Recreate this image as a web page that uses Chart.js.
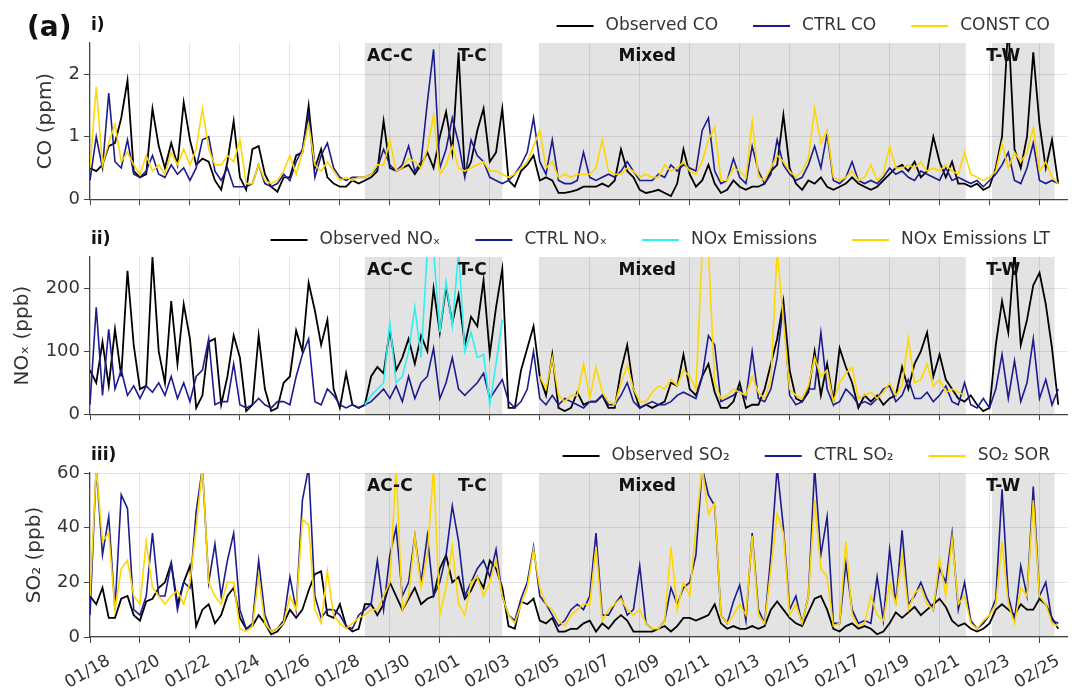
<!DOCTYPE html>
<html>
<head>
<meta charset="utf-8">
<script src="https://cdn.jsdelivr.net/npm/chart.js@4.4.0/dist/chart.umd.min.js"></script>
<style>
  body { margin: 0; background: #fff; }
  #wrap { position: relative; width: 1072px; height: 700px; }
  canvas { position: absolute; left: 0; }
</style>
</head>
<body>
<div id="wrap">
  <canvas id="co" width="1072" height="214" style="top:0px"></canvas>
  <canvas id="nox" width="1072" height="215" style="top:214px"></canvas>
  <canvas id="so2" width="1072" height="270" style="top:430px"></canvas>
</div>
<script>
// -------------- DATA ------------------
// 4 samples a day (every 6 h), day 0 = 01/18 00:00

const PER_DAY = 4;

const coObs = [
  0.5, 0.45, 0.55, 0.85, 0.9, 1.3, 1.9, 0.45,
  0.35, 0.4, 1.45, 0.85, 0.5, 0.9, 0.55, 1.55,
  0.95, 0.55, 0.65, 0.6, 0.3, 0.15, 0.6, 1.25,
  0.35, 0.15, 0.8, 0.85, 0.4, 0.2, 0.12, 0.35,
  0.35, 0.7, 0.75, 1.5, 0.5, 0.8, 0.35, 0.25,
  0.2, 0.2, 0.3, 0.25, 0.3, 0.35, 0.45, 1.25,
  0.5, 0.45, 0.5, 0.55, 0.4, 0.55, 0.75, 0.5,
  1.0, 1.4, 0.75, 2.35, 0.4, 0.6, 1.1, 1.45,
  0.6, 0.75, 1.45, 0.3, 0.2, 0.45, 0.55, 0.7,
  0.3, 0.35, 0.3, 0.1, 0.1, 0.12, 0.15, 0.2,
  0.2, 0.2, 0.25, 0.2, 0.3, 0.8, 0.45, 0.35,
  0.15, 0.1, 0.12, 0.15, 0.1, 0.05, 0.25, 0.8,
  0.4, 0.2, 0.3, 0.55, 0.25, 0.1, 0.15, 0.3,
  0.2, 0.15, 0.2, 0.2, 0.25, 0.45, 0.55, 1.35,
  0.5, 0.25, 0.15, 0.3, 0.25, 0.35, 0.2, 0.15,
  0.2, 0.25, 0.35, 0.25, 0.2, 0.15, 0.2, 0.3,
  0.4, 0.5, 0.55, 0.45, 0.6, 0.35, 0.45, 1.0,
  0.6, 0.35, 0.6, 0.25, 0.25, 0.2, 0.25, 0.15,
  0.2, 0.5, 1.0, 2.8, 0.8, 0.5, 1.0, 2.35,
  1.2, 0.5, 0.95, 0.25
];
const coCtrl = [
  0.3, 1.0, 0.5, 1.7, 0.6, 0.5, 0.95, 0.4,
  0.35, 0.45, 0.7, 0.4, 0.35, 0.55, 0.4, 0.5,
  0.3, 0.5, 0.95, 1.0, 0.45, 0.3, 0.5, 0.2,
  0.2, 0.2, 0.25, 0.55, 0.25, 0.2, 0.25, 0.4,
  0.3, 0.6, 0.8, 1.35, 0.35, 0.7, 0.9, 0.5,
  0.35, 0.3, 0.35, 0.35, 0.35, 0.4, 0.5, 0.8,
  0.55, 0.45, 0.55, 0.85, 0.45, 0.6, 1.55, 2.4,
  0.5, 0.8, 1.3, 0.9, 0.35, 0.95, 0.7, 0.6,
  0.35, 0.3, 0.25, 0.3, 0.4, 0.55, 0.75, 1.3,
  0.6, 0.4, 0.95, 0.3, 0.25, 0.25, 0.3, 0.75,
  0.35, 0.3, 0.35, 0.4, 0.35, 0.45, 0.6, 0.45,
  0.3, 0.3, 0.3, 0.4, 0.35, 0.55, 0.45, 0.55,
  0.5, 0.45, 1.1, 1.3, 0.45, 0.25, 0.3, 0.65,
  0.35, 0.25, 0.85, 0.45, 0.25, 0.4, 0.95, 0.55,
  0.4, 0.3, 0.35, 0.55, 0.85, 0.5, 1.05, 0.3,
  0.25, 0.35, 0.6, 0.3, 0.25, 0.3, 0.25, 0.35,
  0.5, 0.4, 0.45, 0.35, 0.3, 0.45, 0.4, 0.35,
  0.3, 0.5, 0.3, 0.35, 0.3, 0.25, 0.3, 0.2,
  0.3, 0.4, 0.55, 0.75, 0.3, 0.25, 0.5, 0.9,
  0.3, 0.25, 0.3, 0.25
];
const coConst = [
  0.5, 1.8, 0.55, 0.9, 1.2, 0.6, 0.75, 0.55,
  0.4, 0.7, 0.45, 0.55, 0.4, 0.75, 0.55, 0.8,
  0.55, 0.8, 1.45, 0.8, 0.55, 0.55, 0.7, 0.6,
  0.95, 0.25, 0.25, 0.55, 0.3, 0.25, 0.3, 0.45,
  0.7, 0.4, 0.75, 1.2, 0.55, 0.45, 0.6, 0.45,
  0.3, 0.35, 0.3, 0.35, 0.35, 0.4, 0.55, 0.55,
  0.95, 0.45, 0.5, 0.65, 0.6, 0.5, 0.8, 1.35,
  0.4, 0.55, 0.85, 0.5, 0.45, 0.5, 0.55, 0.6,
  0.45, 0.45, 0.4, 0.35, 0.4, 0.5, 0.6, 0.85,
  1.1, 0.5, 0.6, 0.35, 0.4, 0.35, 0.4, 0.4,
  0.4, 0.5, 0.95, 0.45, 0.4, 0.4, 0.5, 0.45,
  0.35, 0.4, 0.35, 0.35, 0.55, 0.45, 0.5, 0.6,
  0.45, 0.4, 0.6, 0.95, 1.15, 0.3, 0.3, 0.5,
  0.45, 0.35, 1.25, 0.35, 0.3, 0.5, 0.7, 0.6,
  0.45, 0.35, 0.45, 0.65, 1.45, 0.9, 1.1, 0.35,
  0.3, 0.35, 0.45, 0.3, 0.35, 0.55, 0.3, 0.4,
  0.85, 0.5, 0.5, 0.55, 0.5, 0.6, 0.45, 0.5,
  0.45, 0.55, 0.45, 0.4, 0.75, 0.4, 0.35, 0.3,
  0.35, 0.45, 0.9, 0.5, 0.75, 0.6, 0.75, 1.15,
  0.45, 0.6, 0.35, 0.25
];

const noxObs = [
  70, 50, 115, 45, 135, 60, 228, 110,
  40, 45, 250, 100, 50, 180, 80, 175,
  120, 10, 30, 115, 120, 15, 60, 125,
  90, 5, 15, 125, 40, 5, 10, 50,
  60, 133, 100, 209, 165, 110, 150, 40,
  10, 65, 15, 10, 15, 60, 75, 65,
  135, 70, 90, 120, 80, 125, 100, 200,
  130, 203, 145, 190, 110, 155, 140, 213,
  95, 170, 231, 10, 10, 70, 105, 140,
  60, 30, 95, 10, 5, 10, 35, 15,
  20, 20, 30, 10, 10, 70, 110, 40,
  10, 15, 10, 15, 20, 50, 45, 95,
  40, 30, 60, 80, 35, 10, 10, 20,
  50, 10, 15, 15, 40, 80, 120, 180,
  70, 25, 20, 35, 100, 30, 80, 20,
  105, 75, 50, 10, 30, 20, 30, 15,
  25, 30, 75, 40, 80, 100, 130, 60,
  95, 55, 40, 25, 20, 30, 15, 5,
  10, 110, 180, 130, 260, 110, 150, 205,
  225, 175, 105, 15
];
const noxCtrl = [
  15, 170, 30, 135, 40, 70, 30, 45,
  25, 45, 35, 50, 30, 60, 25, 50,
  20, 60, 70, 120, 15, 20, 20, 80,
  15, 10, 15, 25, 15, 10, 20, 20,
  15, 60, 95, 120, 20, 15, 40, 30,
  15, 10, 15, 10, 15, 20, 30, 40,
  25, 45, 20, 60, 25, 50, 60, 105,
  25, 50, 90, 40, 30, 40, 50, 65,
  25, 40, 55, 20, 10, 20, 40, 100,
  25, 15, 30, 15, 25, 20, 15, 10,
  20, 20, 30, 15, 15, 30, 50, 20,
  10, 15, 20, 15, 15, 20, 30, 35,
  30, 25, 60, 125, 110, 20, 25, 30,
  40, 25, 100, 25, 20, 40, 90, 175,
  30, 15, 20, 40, 40, 130, 40, 15,
  20, 40, 30, 15, 20, 15, 25, 40,
  45, 20, 30, 55, 25, 25, 35, 20,
  30, 45, 20, 15, 50, 15, 10, 25,
  10, 40, 95, 25, 85, 20, 50, 120,
  25, 55, 15, 40
];
// sensitivity runs only cover part of the period
const noxEmisStart = 11;
const noxEmis = [
  15, 30, 40, 50, 145, 50, 60, 100,
  170, 90, 260, 260, 130, 210, 140, 260,
  100, 130, 90, 95, 15, 80, 150
];
const noxLtStart = 18;
const noxLt = [
  60, 40, 90, 30, 20, 30, 30, 80,
  25, 75, 35, 20, 15, 50, 78, 40,
  20, 20, 35, 45, 40, 55, 45, 70,
  60, 40, 260, 260, 50, 25, 30, 40,
  35, 30, 60, 35, 25, 55, 260, 150,
  40, 30, 25, 45, 90, 60, 70, 20,
  50, 65, 75, 25, 30, 35, 25, 35,
  50, 30, 45, 120, 50, 55, 80, 45,
  55, 35, 40, 35, 30
];

const so2Obs = [
  15, 12, 18, 7, 7, 14, 15, 8,
  6, 13, 14, 18, 20, 27, 12, 20,
  26, 4, 10, 12, 5, 8, 15, 18,
  7, 3, 4, 8, 5, 1, 2, 5,
  10, 7, 10, 17, 23, 24, 8, 7,
  12, 4, 2, 3, 12, 12, 8, 12,
  20, 15, 10, 14, 18, 12, 14, 15,
  25, 30, 20, 22, 14, 17, 22, 18,
  28, 25, 18, 4, 3, 13, 12, 14,
  6, 5, 7, 2, 2, 3, 3, 5,
  6, 2, 5, 3, 6, 8, 6, 2,
  2, 2, 2, 3, 4, 2, 4, 7,
  7, 6, 7, 8, 12, 5, 3, 4,
  3, 3, 4, 3, 4, 10, 13, 10,
  7, 5, 4, 9, 14, 15, 10, 3,
  2, 4, 5, 3, 4, 3, 1, 2,
  5, 9, 7, 9, 11, 8, 10, 12,
  14, 11, 6, 4, 5, 3, 2, 3,
  5, 10, 12, 10, 8, 12, 10, 10,
  14, 12, 7, 3
];
const so2Ctrl = [
  8, 62, 30, 44, 10, 52, 47, 10,
  8, 15, 38, 15, 15, 27, 10, 20,
  18, 46, 62, 20, 34, 15, 28, 38,
  10, 3, 5, 28, 8, 2, 3, 6,
  22, 10, 50, 62, 15, 7, 10, 10,
  8, 4, 3, 8, 10, 12, 28, 10,
  30, 40, 15, 20, 37, 20, 37, 15,
  20, 30, 48, 35, 15, 20, 25, 28,
  22, 32, 15, 8, 6, 14, 20, 33,
  15, 12, 8, 4, 6, 10, 12, 10,
  15, 38, 8, 8, 12, 15, 8, 10,
  26, 5, 3, 3, 6, 18, 12, 18,
  20, 30, 62, 52, 48, 8, 5, 13,
  19, 6, 38, 10, 5, 30, 62, 40,
  10, 15, 5, 15, 62, 30, 44, 5,
  5, 27, 10, 5, 6, 5, 22, 6,
  32, 12, 39, 12, 15, 20, 14, 10,
  25, 20, 38, 10, 20, 6, 3, 5,
  8, 14, 54, 15, 6, 26, 15, 55,
  15, 20, 6, 5
];
const so2Sor = [
  15, 62, 35, 38, 10, 25, 28, 15,
  12, 35, 18, 15, 12, 15, 17, 12,
  20, 40, 62, 20, 15, 12, 20, 20,
  3, 2, 4, 22, 5, 2, 3, 5,
  15, 10, 43, 41, 10, 5, 24, 8,
  5, 3, 5, 7, 8, 10, 10, 15,
  20, 62, 10, 15, 37, 18, 30, 62,
  8, 18, 33, 12, 8, 20, 22, 15,
  20, 28, 15, 8, 5, 12, 18, 32,
  18, 12, 10, 6, 4, 8, 10, 12,
  12, 33, 6, 10, 12, 14, 10, 8,
  10, 5, 3, 3, 6, 33, 10, 20,
  15, 40, 62, 45, 49, 8, 5, 8,
  12, 8, 37, 8, 5, 25, 45, 38,
  8, 12, 5, 15, 50, 25, 22, 4,
  5, 35, 8, 4, 5, 15, 8, 6,
  20, 12, 30, 10, 16, 18, 12, 10,
  29, 15, 36, 12, 15, 5, 3, 6,
  8, 12, 35, 12, 5, 18, 15, 50,
  15, 12, 5, 4
];

// regimes (days from 01/18) and where their names sit
const regimes = [
  { name: "AC-C", from: 11, to: 14.6, labelAt: 12.0 },
  { name: "T-C", from: 14.6, to: 16.5, labelAt: 15.3 },
  { name: "Mixed", from: 18, to: 35.05, labelAt: 22.3 },
  { name: "T-W", from: 36.1, to: 38.6, labelAt: 36.55 },
];


// -------------- STYLE ------------------

const FONT = "'DejaVu Sans', sans-serif";
const BLACK = "#000000";
const NAVY = "#1c1c8f";
const GOLD = "#ffd700";
const CYAN = "#2ff0f0";
const GRID = "rgba(0,0,0,0.1)";
const SHADE = "#e3e3e3";

Chart.defaults.font.family = FONT;
Chart.defaults.color = "#333";

const series = (start, vals) => vals.map((v, i) => ({ x: start + i / PER_DAY, y: v }));

function line(label, color, start, vals, order, width) {
  return {
    label: label,
    data: series(start, vals),
    borderColor: color,
    backgroundColor: color,
    borderWidth: width || 1.6,
    pointRadius: 0,
    tension: 0,
    order: order,
  };
}

function dayLabel(v) {
  const d = new Date(2021, 0, 18 + v);
  return String(d.getMonth() + 1).padStart(2, "0") + "/" + String(d.getDate()).padStart(2, "0");
}

function xAxis(withLabels) {
  return {
    type: "linear",
    min: 0,
    max: 39.1,
    grid: { color: GRID, tickColor: "#444", tickLength: 6 },
    border: { color: "#444", width: 1.2 },
    ticks: {
      display: withLabels,
      stepSize: 2,
      includeBounds: false,
      autoSkip: false,
      minRotation: 30,
      maxRotation: 30,
      labelOffset: 19,
      padding: 8,
      color: "#333",
      font: { size: 17 },
      callback: (v) => dayLabel(v),
    },
    afterFit: (s) => { s.height = withLabels ? 63 : 6; },
  };
}

// titleX: centre of the rotated axis title, measured from the canvas edge
function yAxis(title, max, step, titleX) {
  return {
    min: 0,
    max: max,
    grid: { color: GRID, tickColor: "#444", tickLength: 6 },
    border: { color: "#444", width: 1.2 },
    ticks: { stepSize: step, includeBounds: false, color: "#333", font: { size: 18 }, padding: 4 },
    title: { display: true, text: title, color: "#333", font: { size: 20 }, padding: { top: titleX - 12 } },
    afterFit: (s) => { s.width = 90; },
  };
}

// shading, regime names, panel tag and legend
function deco(tag, bigTag) {
  return {
    id: "deco",
    beforeDraw(chart) {
      const { ctx, chartArea: a, scales: { x } } = chart;
      ctx.save();
      ctx.fillStyle = SHADE;
      regimes.forEach((r) => {
        const x0 = x.getPixelForValue(r.from);
        const x1 = x.getPixelForValue(r.to);
        ctx.fillRect(x0, a.top, x1 - x0, a.bottom - a.top);
      });
      ctx.restore();
    },
    afterDatasetsDraw(chart) {
      const { ctx, chartArea: a, scales: { x } } = chart;
      ctx.save();
      ctx.font = "bold 17px " + FONT;
      ctx.fillStyle = "#111";
      ctx.textAlign = "center";
      ctx.textBaseline = "middle";
      regimes.forEach((r) => ctx.fillText(r.name, x.getPixelForValue(r.labelAt), a.top + 14));
      ctx.restore();
    },
    afterDraw(chart) {
      const { ctx, chartArea: a } = chart;
      const y = a.top - 17;
      ctx.save();
      ctx.textBaseline = "middle";
      ctx.fillStyle = "#111";
      ctx.font = "bold 17px " + FONT;
      ctx.textAlign = "left";
      ctx.fillText(tag, a.left + 1, y);
      if (bigTag) {
        ctx.font = "bold 28px " + FONT;
        ctx.fillText(bigTag, 27, y + 3);
      }

      // legend, right aligned
      ctx.font = "17px " + FONT;
      const sets = chart.data.datasets;
      const widths = sets.map((d) => 37 + 12 + ctx.measureText(d.label).width);
      let cx = a.right - 17 - widths.reduce((s, w) => s + w, 0) - 35 * (sets.length - 1);
      sets.forEach((d, i) => {
        ctx.strokeStyle = d.borderColor;
        ctx.lineWidth = 2;
        ctx.beginPath();
        ctx.moveTo(cx, y);
        ctx.lineTo(cx + 37, y);
        ctx.stroke();
        ctx.fillStyle = "#333";
        ctx.fillText(d.label, cx + 49, y);
        cx += widths[i] + 35;
      });
      ctx.restore();
    },
  };
}

function panel(id, datasets, yOpts, withLabels, tag, bigTag) {
  return new Chart(document.getElementById(id), {
    type: "line",
    data: { datasets: datasets },
    options: {
      responsive: false,
      animation: false,
      devicePixelRatio: 1,
      layout: { padding: { top: 43, right: 5, left: 0, bottom: 0 } },
      plugins: { legend: { display: false }, tooltip: { enabled: false } },
      scales: { x: xAxis(withLabels), y: yOpts },
    },
    plugins: [deco(tag, bigTag)],
  });
}


// ------------ CREATE CHARTS ------------------

panel("co", [
  line("Observed CO", BLACK, 0, coObs, 3, 1.8),
  line("CTRL CO", NAVY, 0, coCtrl, 2),
  line("CONST CO", GOLD, 0, coConst, 1),
], yAxis("CO (ppm)", 2.5, 1, 46), false, "i)", "(a)");

panel("nox", [
  line("Observed NOₓ", BLACK, 0, noxObs, 4, 1.8),
  line("CTRL NOₓ", NAVY, 0, noxCtrl, 3),
  line("NOx Emissions", CYAN, noxEmisStart, noxEmis, 2),
  line("NOx Emissions LT", GOLD, noxLtStart, noxLt, 1),
], yAxis("NOₓ (ppb)", 250, 100, 23), false, "ii)");

panel("so2", [
  line("Observed SO₂", BLACK, 0, so2Obs, 3, 1.8),
  line("CTRL SO₂", NAVY, 0, so2Ctrl, 2),
  line("SO₂ SOR", GOLD, 0, so2Sor, 1),
], yAxis("SO₂ (ppb)", 60, 20, 35), true, "iii)");
</script>
</body>
</html>
